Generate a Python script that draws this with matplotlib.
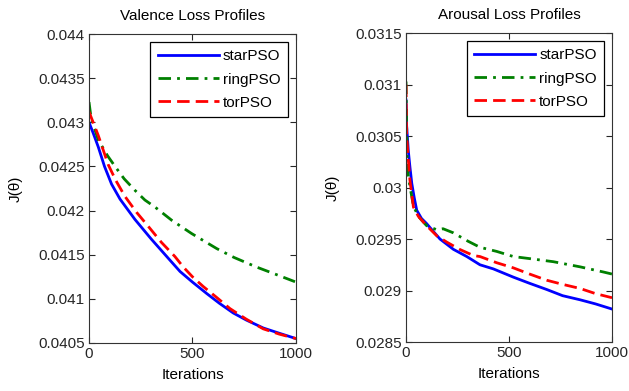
import numpy as np
import matplotlib
matplotlib.use('Agg')
import matplotlib.pyplot as plt
from matplotlib.ticker import FuncFormatter

plt.rcParams['font.family'] = ['Liberation Sans', 'DejaVu Sans']

# valence loss profiles
val_star_x = [0, 20, 45, 75, 109, 150, 222, 300, 383, 440, 500, 569, 630, 697, 760, 842, 920, 1000]
val_star_y = [0.04300, 0.04288, 0.04272, 0.04250, 0.04230, 0.04213, 0.04190, 0.04168, 0.04146, 0.04131,
              0.04119, 0.04106, 0.04095, 0.04084, 0.04076, 0.04067, 0.04061, 0.04055]
val_ring_x = [0, 10, 45, 90, 126, 170, 222, 270, 319, 400, 496, 560, 617, 700, 810, 900, 1000]
val_ring_y = [0.04323, 0.04305, 0.04280, 0.04262, 0.04250, 0.04236, 0.04223, 0.04212, 0.04204, 0.04189,
              0.04174, 0.04165, 0.04157, 0.04147, 0.04136, 0.04128, 0.04119]
val_tor_x = [0, 20, 45, 93, 130, 174, 230, 287, 350, 415, 456, 500, 552, 620, 681, 760, 842, 920, 1000]
val_tor_y = [0.04312, 0.04300, 0.04285, 0.04252, 0.04234, 0.04216, 0.04198, 0.04182, 0.04164, 0.04148,
             0.04136, 0.04125, 0.04114, 0.04101, 0.04089, 0.04077, 0.04066, 0.04060, 0.04055]

# arousal loss profiles
aro_star_x = [0, 3, 11, 19, 28, 40, 52, 75, 100, 130, 165, 230, 295, 359, 424, 521, 600, 683, 760, 845, 920, 1000]
aro_star_y = [0.03085, 0.03060, 0.03036, 0.03020, 0.03004, 0.02990, 0.02978, 0.02970, 0.02965, 0.02958, 0.02950,
              0.02940, 0.02933, 0.02925, 0.02921, 0.02913, 0.02907, 0.02901, 0.02895, 0.02891, 0.02887, 0.02882]
aro_ring_x = [0, 3, 6, 12, 20, 36, 60, 100, 149, 180, 230, 300, 359, 440, 521, 600, 715, 845, 958, 1000]
aro_ring_y = [0.03103, 0.03060, 0.03020, 0.03010, 0.03000, 0.02982, 0.02972, 0.02963, 0.02959, 0.02960,
              0.02956, 0.02948, 0.02942, 0.02938, 0.02933, 0.02931, 0.02928, 0.02923, 0.02918, 0.02916]
aro_tor_x = [0, 3, 10, 19, 36, 60, 100, 150, 198, 260, 327, 359, 440, 521, 600, 683, 760, 845, 920, 1000]
aro_tor_y = [0.03100, 0.03050, 0.03030, 0.03007, 0.02981, 0.02972, 0.02963, 0.02953, 0.02947, 0.02940,
             0.02934, 0.02933, 0.02927, 0.02922, 0.02916, 0.02910, 0.02906, 0.02902, 0.02897, 0.02893]

names = ['starPSO', 'ringPSO', 'torPSO']
val_ticks = [0.0405, 0.041, 0.0415, 0.042, 0.0425, 0.043, 0.0435, 0.044]
aro_ticks = [0.0285, 0.029, 0.0295, 0.03, 0.0305, 0.031, 0.0315]

fig = plt.figure(figsize=(6.29, 3.91), dpi=100)
ax1 = fig.add_axes([0.1415, 0.1228, 0.329, 0.790])
ax2 = fig.add_axes([0.6455, 0.1253, 0.3275, 0.790])


def draw(ax, star, ring, tor, ticks, title):
    ax.plot(star[0], star[1], color='#0000ff', lw=2, label=names[0])
    ax.plot(ring[0], ring[1], color='#008000', lw=2, ls=(0, (4.5, 2.2, 1, 2.2)), label=names[1])
    ax.plot(tor[0], tor[1], color='#ff0000', lw=2, ls=(0, (4.5, 2.2)), label=names[2])
    ax.set_xlim(0, 1000)
    ax.set_ylim(ticks[0], ticks[-1])
    ax.set_xticks([0, 500, 1000])
    ax.set_yticks(ticks)
    ax.yaxis.set_major_formatter(FuncFormatter(lambda v, p: '%g' % v))
    ax.tick_params(direction='in', top=True, right=True, labelsize=11, length=4, pad=3,
                   colors='#262626')
    for s in ax.spines.values():
        s.set_color('#333333')
    ax.set_title(title, fontsize=11, pad=10)
    ax.set_xlabel('Iterations', fontsize=11, labelpad=5)
    ax.set_ylabel('J(θ)', fontsize=11, labelpad=11)
    leg = ax.legend(loc='upper right', fontsize=11, fancybox=False, edgecolor='black',
                    framealpha=1, handlelength=4.0, handletextpad=0.25, borderaxespad=0.5,
                    labelspacing=0.6, borderpad=0.5)
    leg.get_frame().set_linewidth(0.9)


draw(ax1, (val_star_x, val_star_y), (val_ring_x, val_ring_y), (val_tor_x, val_tor_y),
     val_ticks, 'Valence Loss Profiles')
draw(ax2, (aro_star_x, aro_star_y), (aro_ring_x, aro_ring_y), (aro_tor_x, aro_tor_y),
     aro_ticks, 'Arousal Loss Profiles')

fig.savefig('out.png', dpi=100)
